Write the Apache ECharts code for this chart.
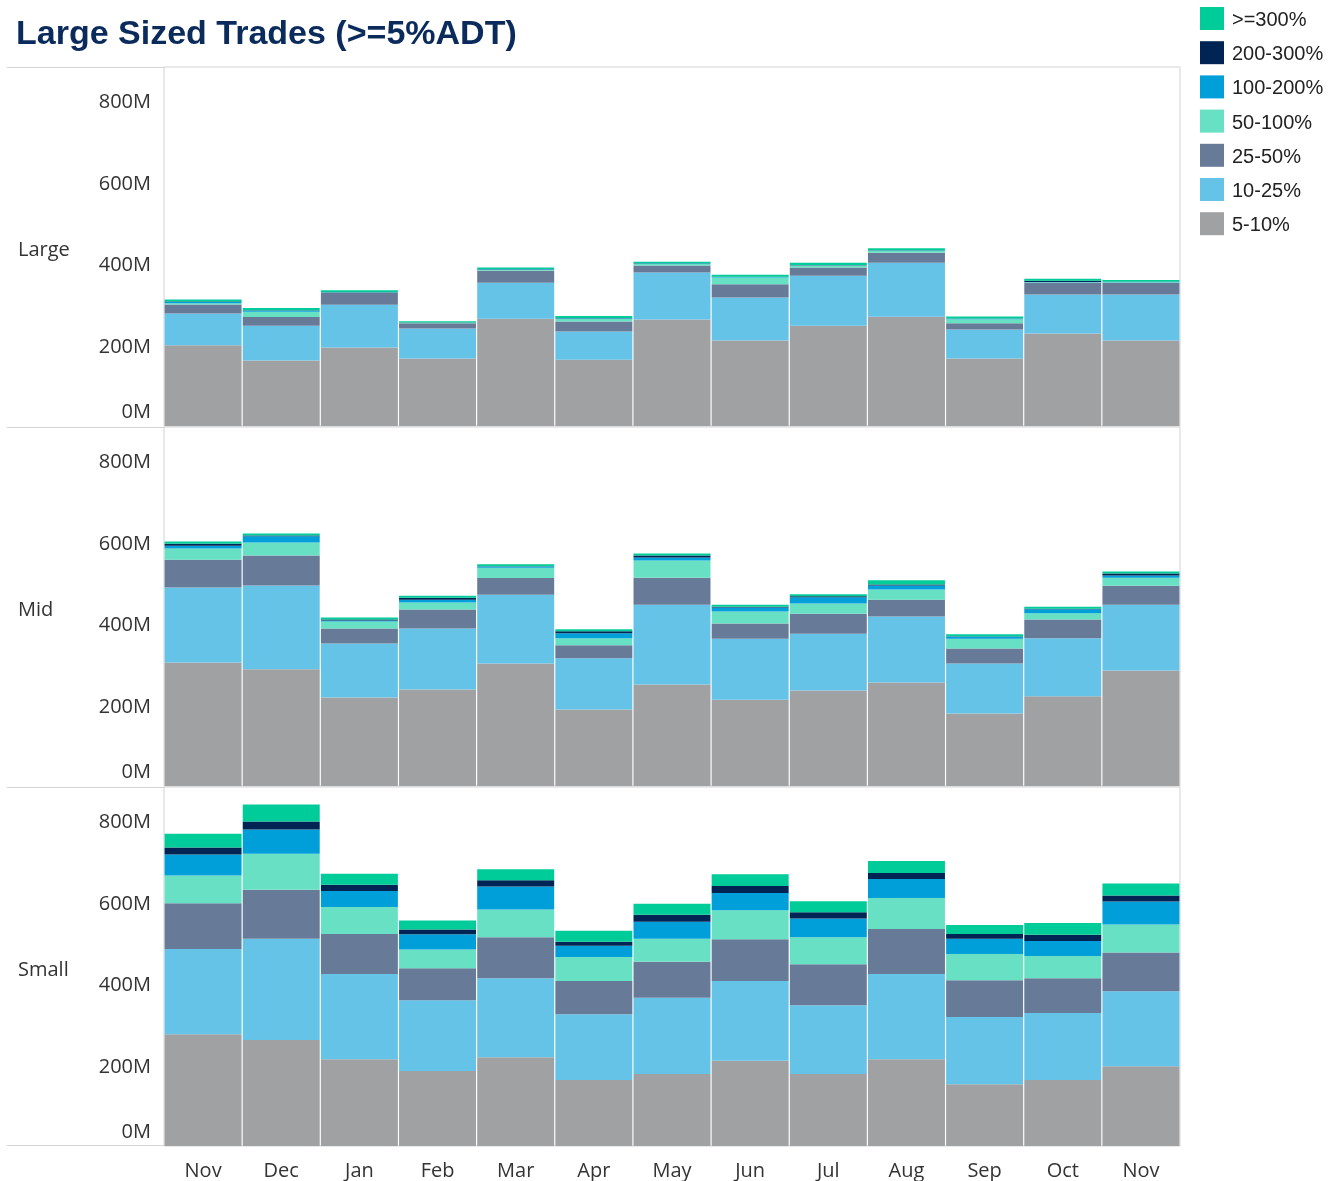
<!DOCTYPE html>
<html>
<head>
<meta charset="utf-8">
<title>Large Sized Trades (>=5%ADT)</title>
<script src="https://cdn.jsdelivr.net/npm/echarts@6/dist/echarts.min.js"></script>
<style>
    html, body { margin: 0; padding: 0; background: #fff; }
    #chart { width: 1336px; height: 1181px; }
</style>
</head>
<body>
<div id="chart"></div>
<script>
// 月份（横轴）
const months = ['Nov', 'Dec', 'Jan', 'Feb', 'Mar', 'Apr', 'May', 'Jun', 'Jul', 'Aug', 'Sep', 'Oct', 'Nov'];
// 分档，从下往上堆叠
const bands = ['5-10%', '10-25%', '25-50%', '50-100%', '100-200%', '200-300%', '>=300%'];
const bandColors = ['#a0a1a3', '#66c3e8', '#677b98', '#67e0c4', '#009fd9', '#002554', '#00cc99'];
const panelNames = ['Large', 'Mid', 'Small'];
const yTicks = [0, 200, 400, 600, 800];

// Large 面板 (单位 M)
const large5to10 = [197, 160, 192, 165, 262, 162, 260, 209, 245, 267, 165, 226, 209];
const large10to25 = [78, 85, 104, 73, 88, 69, 115, 105, 122, 132, 71, 95, 112];
const large25to50 = [22, 21, 29, 13, 29, 24, 17, 32, 20, 24, 15, 29, 29];
const large50to100 = [3, 13, 1, 1, 3, 7, 4, 17, 5, 5, 10, 1, 1];
const large100to200 = [3, 3, 1, 0.5, 1, 1, 1, 1, 1, 1, 1, 1, 1];
const large200to300 = [1, 0.5, 0.5, 0.5, 0.5, 1, 0.5, 0.5, 0.5, 0.5, 0.5, 3, 0.5];
const large300plus = [5, 6, 4, 3, 4, 5, 4, 5, 5, 5, 5, 5, 4];

// Mid 面板
const mid5to10 = [302, 285, 216, 236, 299, 187, 248, 211, 233, 253, 177, 219, 282];
const mid10to25 = [183, 205, 132, 149, 168, 125, 195, 149, 139, 161, 122, 142, 161];
const mid25to50 = [68, 73, 37, 46, 41, 32, 66, 37, 49, 41, 37, 46, 46];
const mid50to100 = [27, 32, 17, 17, 25, 17, 42, 29, 25, 25, 24, 15, 20];
const mid100to200 = [7, 15, 2.5, 7, 3, 12, 7, 10, 15, 10, 5, 10, 5];
const mid200to300 = [5, 2, 2, 5, 1, 5, 5, 2, 2.5, 2.5, 1, 1, 5];
const mid300plus = [5, 5, 5, 5, 5, 5, 5, 5, 5, 10, 5, 5, 5];

// Small 面板
const small5to10 = [273, 259, 212, 183, 217, 161, 176, 208, 176, 212, 151, 161, 195];
const small10to25 = [208, 247, 208, 173, 193, 161, 186, 195, 168, 208, 164, 164, 183];
const small25to50 = [112, 120, 98, 78, 100, 81, 88, 102, 100, 110, 90, 85, 95];
const small50to100 = [68, 88, 66, 46, 68, 59, 56, 71, 66, 76, 64, 54, 68];
const small100to200 = [51, 59, 39, 37, 56, 27, 42, 42, 46, 46, 37, 37, 56];
const small200to300 = [17, 20, 15, 12, 15, 10, 17, 17, 15, 15, 12, 15, 15];
const small300plus = [34, 41, 27, 22, 27, 27, 27, 29, 27, 29, 22, 29, 29];

const panelData = [
    [large5to10, large10to25, large25to50, large50to100, large100to200, large200to300, large300plus],
    [mid5to10, mid10to25, mid25to50, mid50to100, mid100to200, mid200to300, mid300plus],
    [small5to10, small10to25, small25to50, small50to100, small100to200, small200to300, small300plus]
];

const labelFont = 'Open Sans';
const labelSize = 20;
const borderColor = '#d3d3d3';
const panelTop = 67;
const panelHeight = 360;

const chart = echarts.init(document.getElementById('chart'));

const grids = [];
const xAxes = [];
const yAxes = [];
const series = [];
const sideLines = [];

panelNames.forEach((name, p) => {
    grids.push({
        left: 164,
        right: 156,
        top: panelTop + panelHeight * p,
        height: panelHeight - 1,
        show: true,
        borderColor: borderColor,
        borderWidth: 1
    });

    xAxes.push({
        type: 'category',
        gridIndex: p,
        data: months,
        axisLine: { show: false },
        axisTick: { show: false },
        axisLabel: {
            show: p === panelNames.length - 1,
            margin: 15,
            fontFamily: labelFont,
            fontSize: labelSize,
            color: '#333'
        }
    });

    yAxes.push({
        type: 'value',
        gridIndex: p,
        min: 0,
        max: 877,
        interval: 200,
        axisLine: { show: false },
        axisTick: { show: false },
        splitLine: { show: false },
        // 行标签，富文本下移一点
        name: '{t|' + name + '}',
        nameLocation: 'middle',
        nameRotate: 0,
        nameGap: 146,
        nameTextStyle: {
            align: 'left',
            fontFamily: labelFont,
            fontSize: labelSize,
            color: '#333',
            rich: {
                t: { fontFamily: labelFont, fontSize: labelSize, color: '#333', padding: [8, 0, 0, 0] }
            }
        },
        axisLabel: {
            margin: 13,
            showMaxLabel: false,
            formatter: function (v) {
                if (yTicks.indexOf(v) === -1) return '';
                // 0M 标签在 Tableau 中上移，避免压到分隔线
                return v === 0 ? '{z|0M}' : '{n|' + v + 'M}';
            },
            rich: {
                z: { fontFamily: labelFont, fontSize: labelSize, color: '#333', padding: [0, 0, 27, 0] },
                n: { fontFamily: labelFont, fontSize: labelSize, color: '#333', padding: [7, 0, 0, 0] }
            }
        }
    });

    bands.forEach((band, b) => {
        series.push({
            name: band,
            type: 'bar',
            stack: 'panel' + p,
            xAxisIndex: p,
            yAxisIndex: p,
            barCategoryGap: '1.5%',
            itemStyle: { color: bandColors[b] },
            emphasis: { disabled: true },
            data: panelData[p][b]
        });
    });

    // 左侧标签区的横向分隔线
    sideLines.push({
        type: 'line',
        shape: { x1: 7, y1: panelTop + panelHeight * p + 0.5, x2: 164, y2: panelTop + panelHeight * p + 0.5 },
        style: { stroke: borderColor, lineWidth: 1 }
    });
});

sideLines.push({
    type: 'line',
    shape: { x1: 7, y1: panelTop + panelHeight * 3 - 1.5, x2: 164, y2: panelTop + panelHeight * 3 - 1.5 },
    style: { stroke: borderColor, lineWidth: 1 }
});

const option = {
    animation: false,
    backgroundColor: '#fff',
    title: {
        text: 'Large Sized Trades (>=5%ADT)',
        left: 11,
        top: 13,
        textStyle: {
            fontFamily: 'Liberation Sans',
            fontWeight: 'bold',
            fontSize: 34,
            color: '#0b2b5c'
        }
    },
    legend: {
        orient: 'vertical',
        left: 1200,
        top: 7,
        padding: 0,
        itemWidth: 24,
        itemHeight: 23,
        itemGap: 10.7,
        icon: 'rect',
        data: bands.slice().reverse(),
        formatter: function (n) {
            return '{t|' + n + '}';
        },
        textStyle: {
            fontFamily: 'Liberation Sans',
            fontSize: 20,
            color: '#222',
            rich: {
                t: { fontFamily: 'Liberation Sans', fontSize: 20, color: '#222', padding: [4, 0, 0, 3] }
            }
        }
    },
    grid: grids,
    xAxis: xAxes,
    yAxis: yAxes,
    series: series,
    graphic: sideLines
};

chart.setOption(option);
</script>
</body>
</html>
